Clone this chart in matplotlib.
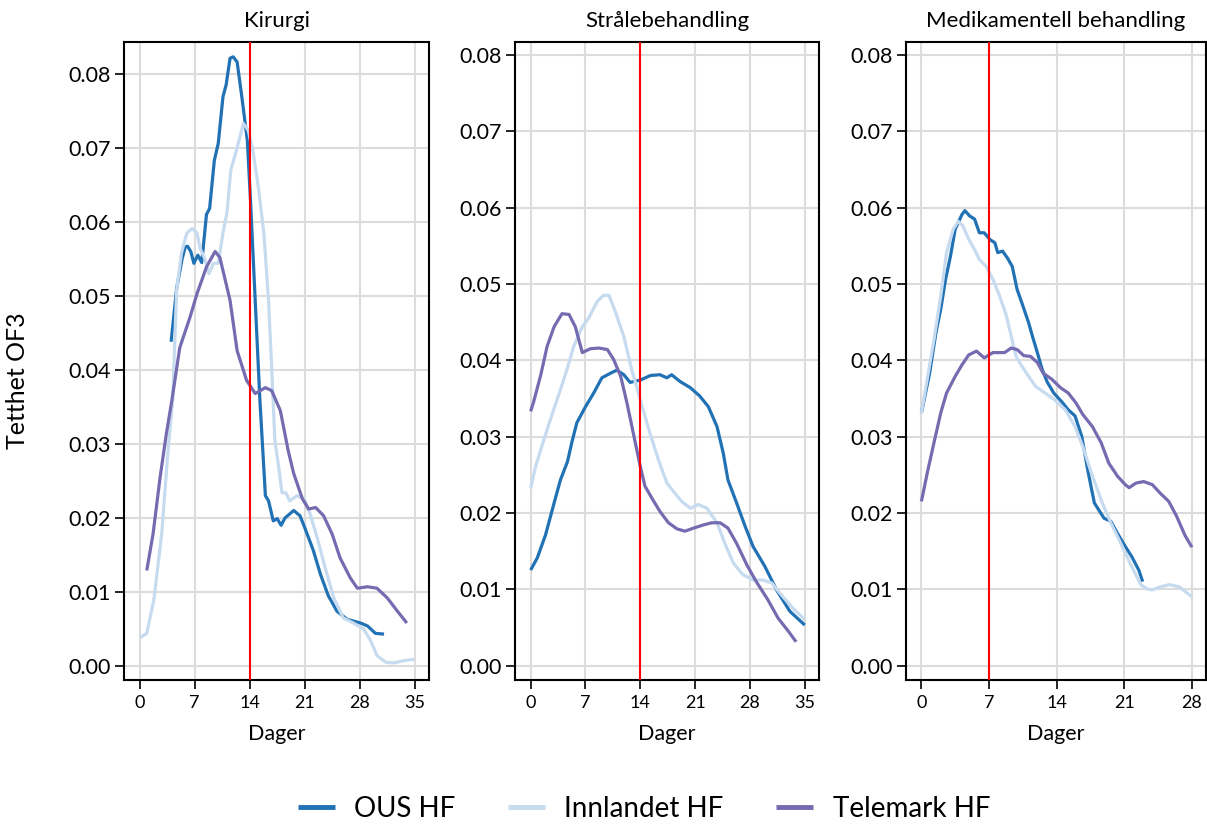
import matplotlib
matplotlib.use("Agg")
import matplotlib.pyplot as plt

plt.rcParams['font.family'] = ['Lato', 'DejaVu Sans']

# --- data ---
hospitals = ["OUS HF", "Innlandet HF", "Telemark HF"]
colors = ["#2171b5", "#c6dbef", "#756bb1"]

panel_titles = ["Kirurgi", "Strålebehandling", "Medikamentell behandling"]
cutoffs = [14, 14, 7]
xmax = [35, 35, 28]

# Kirurgi
kir_ous_x = [4.0, 4.7, 5.4, 5.8, 6.1, 6.5, 6.9, 7.4, 7.9, 8.5, 8.9, 9.5, 10.0, 10.6, 11.0, 11.5, 11.9, 12.4, 13.0, 13.7,
             14.1, 14.7, 15.3, 16.0, 16.4, 17.0, 17.5, 18.0, 18.5, 19.6, 20.4, 21.0, 22.1, 23.0, 24.0, 25.1, 26.4, 28.1,
             29.0, 30.0, 31.1]
kir_ous_y = [0.0438, 0.0510, 0.0550, 0.0566, 0.0567, 0.0560, 0.0544, 0.0555, 0.0545, 0.0610, 0.0618, 0.0683, 0.0706,
             0.0769, 0.0785, 0.0821, 0.0823, 0.0816, 0.0769, 0.0710, 0.0630, 0.0494, 0.0359, 0.0230, 0.0223, 0.0196,
             0.0199, 0.0190, 0.0200, 0.0210, 0.0203, 0.0187, 0.0156, 0.0124, 0.0095, 0.0074, 0.0063, 0.0058, 0.0054,
             0.0044, 0.0043]
kir_inn_x = [0, 0.9, 1.8, 2.8, 3.6, 4.2, 4.7, 5.3, 6.0, 6.7, 7.3, 7.7, 8.3, 8.8, 9.4, 10.0, 10.6, 11.1, 11.6, 12.4,
             13.2, 13.8, 14.4, 15.1, 15.8, 16.4, 16.8, 17.2, 17.7, 18.1, 18.6, 19.1, 20.0, 20.9, 21.7, 22.6, 23.6, 24.7,
             25.9, 27.2, 28.5, 29.4, 30.2, 31.3, 32.3, 33.6, 34.9]
kir_inn_y = [0.0038, 0.0044, 0.0089, 0.0178, 0.0290, 0.0359, 0.0507, 0.0557, 0.0585, 0.0591, 0.0585, 0.0564, 0.0550,
             0.0530, 0.0544, 0.0544, 0.0585, 0.0612, 0.0670, 0.0700, 0.0733, 0.0724, 0.0697, 0.0647, 0.0585, 0.0494,
             0.0403, 0.0305, 0.0268, 0.0234, 0.0234, 0.0223, 0.0230, 0.0226, 0.0205, 0.0173, 0.0133, 0.0092, 0.0065,
             0.0058, 0.0050, 0.0034, 0.0014, 0.0005, 0.0004, 0.0007, 0.0009]
kir_tel_x = [0.9, 1.7, 2.6, 3.4, 4.1, 5.1, 6.4, 7.3, 8.5, 9.6, 10.2, 11.5, 12.4, 13.6, 14.7, 16.0, 16.8, 17.9, 18.9,
             19.6, 20.7, 21.5, 22.4, 23.4, 24.5, 25.5, 26.8, 27.7, 29.0, 30.2, 31.5, 32.8, 34.0]
kir_tel_y = [0.0129, 0.0178, 0.0255, 0.0314, 0.0359, 0.0430, 0.0471, 0.0503, 0.0539, 0.0560, 0.0552, 0.0494, 0.0426,
             0.0386, 0.0368, 0.0376, 0.0372, 0.0345, 0.0291, 0.0260, 0.0226, 0.0212, 0.0214, 0.0203, 0.0178, 0.0146,
             0.0119, 0.0105, 0.0107, 0.0105, 0.0092, 0.0074, 0.0058]

# Strålebehandling
str_ous_x = [0, 0.85, 1.9, 3.0, 3.8, 4.7, 5.3, 5.9, 7.0, 8.05, 9.1, 10.2, 11.0, 11.9, 12.7, 14.0, 15.3, 16.5, 17.4,
             18.0, 19.1, 20.4, 21.6, 22.7, 23.8, 24.6, 25.2, 26.3, 27.4, 28.4, 29.9, 31.4, 33.1, 35.0]
str_ous_y = [0.0125, 0.0141, 0.0171, 0.0213, 0.0243, 0.0267, 0.0294, 0.0318, 0.0339, 0.0357, 0.0377, 0.0383, 0.0387,
             0.0381, 0.0371, 0.0374, 0.0380, 0.0381, 0.0377, 0.0381, 0.0372, 0.0364, 0.0353, 0.0339, 0.0313, 0.0278,
             0.0243, 0.0213, 0.0182, 0.0156, 0.0130, 0.0099, 0.0071, 0.0053]
str_inn_x = [0, 0.64, 1.7, 2.8, 3.8, 4.7, 5.5, 6.6, 7.4, 8.5, 9.3, 10.0, 10.8, 11.9, 12.9, 14.0, 15.1, 16.3, 17.4,
             18.4, 19.3, 20.4, 21.4, 22.5, 23.8, 24.8, 25.9, 27.1, 28.4, 29.7, 30.8, 31.8, 33.5, 35.0]
str_inn_y = [0.0232, 0.0261, 0.0296, 0.0331, 0.0361, 0.0390, 0.0418, 0.0444, 0.0455, 0.0477, 0.0485, 0.0485, 0.0464,
             0.0431, 0.0388, 0.0348, 0.0309, 0.0270, 0.0239, 0.0226, 0.0215, 0.0206, 0.0211, 0.0206, 0.0187, 0.0160,
             0.0134, 0.0119, 0.0112, 0.0112, 0.0108, 0.0095, 0.0075, 0.0060]
str_tel_x = [0, 0.4, 1.3, 2.1, 3.0, 4.0, 4.9, 5.7, 6.6, 7.6, 8.7, 9.8, 10.6, 11.5, 12.3, 13.2, 14.0, 14.6, 15.5, 16.5,
             17.6, 18.7, 19.7, 20.8, 22.0, 23.1, 24.2, 25.2, 26.3, 27.6, 28.8, 30.3, 31.6, 32.9, 33.9]
str_tel_y = [0.0333, 0.0346, 0.0381, 0.0418, 0.0444, 0.0461, 0.0460, 0.0444, 0.0410, 0.0415, 0.0416, 0.0414, 0.0401,
             0.0379, 0.0344, 0.0300, 0.0261, 0.0235, 0.0219, 0.0202, 0.0187, 0.0179, 0.0176, 0.0180, 0.0184, 0.0187,
             0.0187, 0.0180, 0.0160, 0.0132, 0.0110, 0.0086, 0.0062, 0.0045, 0.0031]

# Medikamentell behandling
med_ous_x = [0, 0.85, 1.5, 2.0, 2.5, 3.0, 3.5, 4.2, 4.5, 5.0, 5.5, 6.0, 6.5, 7.1, 7.6, 7.9, 8.4, 8.9, 9.4, 9.9, 10.4,
             11.1, 11.5, 12.0, 12.5, 13.0, 13.7, 14.5, 15.2, 15.9, 16.6, 17.2, 17.9, 18.9, 19.6, 20.3, 21.1, 21.8, 22.5,
             22.9]
med_ous_y = [0.0331, 0.0383, 0.0436, 0.0467, 0.0506, 0.0536, 0.0572, 0.0591, 0.0596, 0.0589, 0.0585, 0.0567, 0.0567,
             0.0558, 0.0554, 0.0541, 0.0543, 0.0534, 0.0523, 0.0493, 0.0475, 0.0449, 0.0431, 0.0410, 0.0388, 0.0372,
             0.0357, 0.0346, 0.0335, 0.0327, 0.0300, 0.0257, 0.0213, 0.0193, 0.0189, 0.0173, 0.0156, 0.0142, 0.0125,
             0.0110]
med_inn_x = [0, 0.6, 1.3, 2.0, 2.6, 3.3, 3.8, 4.3, 4.8, 5.5, 6.0, 6.7, 7.4, 8.1, 8.8, 9.3, 9.8, 10.4, 11.1, 11.8,
             12.8, 13.8, 14.9, 15.9, 16.7, 17.6, 18.6, 19.6, 20.6, 21.6, 22.7, 23.4, 23.9, 24.7, 25.7, 26.7, 28.0]
med_inn_y = [0.0331, 0.0375, 0.0427, 0.0484, 0.0541, 0.0572, 0.0582, 0.0576, 0.0561, 0.0545, 0.0532, 0.0523, 0.0506,
             0.0484, 0.0458, 0.0431, 0.0405, 0.0392, 0.0379, 0.0366, 0.0357, 0.0348, 0.0335, 0.0313, 0.0287, 0.0252,
             0.0217, 0.0187, 0.0161, 0.0134, 0.0106, 0.0100, 0.0099, 0.0103, 0.0106, 0.0103, 0.0090]
med_tel_x = [0, 0.6, 1.3, 2.0, 2.6, 3.5, 4.2, 4.9, 5.7, 6.5, 7.4, 8.1, 8.6, 9.3, 9.9, 10.6, 11.3, 12.0, 12.6, 13.5,
             14.4, 15.2, 16.0, 16.7, 17.7, 18.6, 19.4, 20.3, 21.1, 21.5, 22.2, 23.0, 23.9, 24.7, 25.6, 26.4, 27.3, 28.0]
med_tel_y = [0.0215, 0.0252, 0.0292, 0.0331, 0.0357, 0.0379, 0.0394, 0.0407, 0.0412, 0.0403, 0.0410, 0.0410, 0.0410,
             0.0416, 0.0414, 0.0406, 0.0405, 0.0397, 0.0383, 0.0375, 0.0364, 0.0357, 0.0344, 0.0329, 0.0313, 0.0292,
             0.0265, 0.0248, 0.0237, 0.0233, 0.0239, 0.0241, 0.0237, 0.0226, 0.0215, 0.0196, 0.0170, 0.0155]

series = [
    [(kir_ous_x, kir_ous_y), (kir_inn_x, kir_inn_y), (kir_tel_x, kir_tel_y)],
    [(str_ous_x, str_ous_y), (str_inn_x, str_inn_y), (str_tel_x, str_tel_y)],
    [(med_ous_x, med_ous_y), (med_inn_x, med_inn_y), (med_tel_x, med_tel_y)],
]

# --- figure ---
fig = plt.figure(figsize=(12.07, 8.30), dpi=100)
W, H = 1207, 830
boxes = [(124, 429), (515, 819), (906, 1206)]
top, bottom = 42, 680
ylims = [(-0.0019, 0.0843), (-0.0019, 0.0817), (-0.0019, 0.0817)]

lines = []
for i in range(3):
    l, r = boxes[i]
    ax = fig.add_axes([l / W, 1 - bottom / H, (r - l) / W, (bottom - top) / H])
    ax.set_axisbelow(True)
    ax.grid(True, color="#dcdcdc", linewidth=1.5)

    for j, (xs, ys) in enumerate(series[i]):
        ln, = ax.plot(xs, ys, color=colors[j], linewidth=2.3, solid_capstyle="butt")
        if i == 0:
            lines.append(ln)

    ax.axvline(cutoffs[i], color="#ff0000", linewidth=1.5, zorder=5)

    m = xmax[i]
    ax.set_xlim(-0.057 * m, 1.052 * m)
    ax.set_ylim(*ylims[i])
    ax.set_xticks(range(0, m + 1, 7))
    ax.set_yticks([0, 0.01, 0.02, 0.03, 0.04, 0.05, 0.06, 0.07, 0.08])
    ax.set_yticklabels(["0.00", "0.01", "0.02", "0.03", "0.04", "0.05", "0.06", "0.07", "0.08"])
    ax.tick_params(axis="y", labelsize=15.5, length=6.5, width=1.2, pad=3)
    ax.tick_params(axis="x", labelsize=13, length=6.5, width=1.2, pad=4)
    for s in ax.spines.values():
        s.set_linewidth(1.5)
        s.set_color("black")
    ax.set_title(panel_titles[i], fontsize=16, pad=11)
    ax.set_xlabel("Dager", fontsize=15.5, labelpad=10)

fig.text(18 / W, 1 - 381 / H, "Tetthet OF3", rotation=90, fontsize=18, ha="center", va="center")

leg = fig.legend(lines, hospitals, loc="center", ncol=3, bbox_to_anchor=(644 / W, 1 - 809 / H),
                 frameon=False, fontsize=20, handlelength=1.33, handletextpad=0.7, columnspacing=1.9,
                 borderpad=0.2)
for h in leg.get_lines():
    h.set_linewidth(3.5)

fig.savefig("out.png", dpi=100)
